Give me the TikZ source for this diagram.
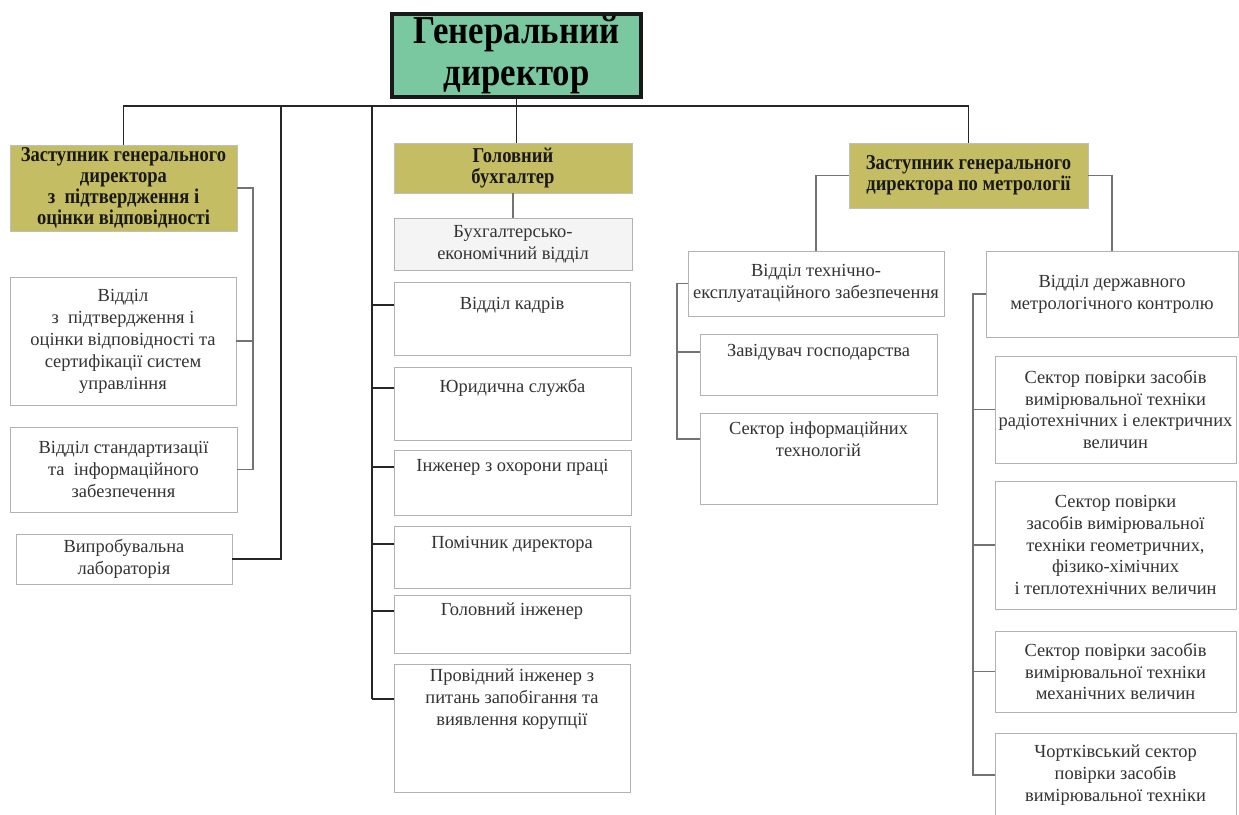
\documentclass[tikz,border=0pt]{standalone}
\usepackage{fontspec}
\setmainfont{Liberation Serif}
\newfontfamily\headfont[FakeStretch=0.88]{Liberation Serif}

\definecolor{chiefgreen}{RGB}{122,200,160}
\definecolor{headolive}{RGB}{197,189,100}
\definecolor{bekgray}{RGB}{244,244,244}

\tikzstyle{chief} = [draw=black!90, line width=2.2pt, fill=chiefgreen, align=center, font=\headfont\bfseries\fontsize{22.5}{24}\selectfont, inner sep=1pt]
\tikzstyle{head} = [draw=black!25, fill=headolive, align=center, font=\headfont\bfseries\fontsize{12}{12}\selectfont, text=black!90, inner sep=1pt]
\tikzstyle{box} = [draw=black!30, fill=white, align=center, font=\fontsize{10.5}{12.5}\selectfont, text=black!80, inner sep=1pt]
\tikzstyle{txt} = [align=center, font=\fontsize{10.5}{12.5}\selectfont, text=black!80, inner sep=1pt]
\tikzstyle{trunk} = [draw=black!85, line width=1.1pt]
\tikzstyle{branch} = [draw=black!55, line width=0.6pt]

\begin{document}
\begin{tikzpicture}[x=0.02cm,y=-0.02cm]
	\useasboundingbox (0,0) rectangle (1239,814);

	% top level
	\node[chief, minimum width=4.98cm, minimum height=1.66cm] (gen) at (516.5,55.5) {Генеральний\\директор};
	\node[head, minimum width=4.54cm, minimum height=1.72cm] (depA) at (123.5,188) {Заступник генерального\\директора\\з~ підтвердження і\\оцінки відповідності};
	\node[head, minimum width=4.76cm, minimum height=1cm] (buh) at (513,168) {Головний\\бухгалтер};
	\node[head, minimum width=4.78cm, minimum height=1.3cm] (depM) at (968.5,175.5) {Заступник генерального\\директора по метрології};

	% left column
	\node[box, minimum width=4.52cm, minimum height=2.56cm] (conf) at (123,341) {Відділ\\з~ підтвердження і\\оцінки відповідності та\\сертифікації систем\\управління};
	\node[box, minimum width=4.54cm, minimum height=1.7cm] (std) at (123.5,469.5) {Відділ стандартизації\\та~ інформаційного\\забезпечення};
	\node[box, minimum width=4.32cm, minimum height=1cm] (lab) at (124,559) {Випробувальна\\лабораторія};

	% middle column
	\node[box, fill=bekgray, minimum width=4.76cm, minimum height=1.04cm] (bek) at (513,244) {Бухгалтерсько-\\економічний відділ};
	\node[box, minimum width=4.72cm, minimum height=1.46cm] (kadry) at (512,318.5) {};
	\node[txt] (kadry-txt) at (512,305) {Відділ кадрів};
	\node[box, minimum width=4.74cm, minimum height=1.46cm] (yur) at (512.5,403.5) {};
	\node[txt] (yur-txt) at (512.5,388) {Юридична служба};
	\node[box, minimum width=4.74cm, minimum height=1.3cm] (ohor) at (512.5,482.5) {};
	\node[txt] (ohor-txt) at (512.5,467) {Інженер з охорони праці};
	\node[box, minimum width=4.72cm, minimum height=1.24cm] (pomich) at (512,557) {};
	\node[txt] (pomich-txt) at (512,544) {Помічник директора};
	\node[box, minimum width=4.72cm, minimum height=1.16cm] (golinzh) at (512,624) {};
	\node[txt] (golinzh-txt) at (512,611) {Головний інженер};
	\node[box, minimum width=4.72cm, minimum height=2.56cm] (provid) at (512,728) {};
	\node[txt] (provid-txt) at (512,699) {Провідний інженер з\\питань запобігання та\\виявлення корупції};

	% metrology, left
	\node[box, minimum width=5.12cm, minimum height=1.3cm] (tekh) at (816,283.5) {Відділ технічно-\\експлуатаційного забезпечення};
	\node[box, minimum width=4.74cm, minimum height=1.22cm] (zav) at (818.5,364.5) {};
	\node[txt] (zav-txt) at (818.5,352) {Завідувач господарства};
	\node[box, minimum width=4.74cm, minimum height=1.82cm] (info) at (818.5,458.5) {};
	\node[txt] (info-txt) at (818.5,439) {Сектор інформаційних\\технологій};

	% metrology, right
	\node[box, minimum width=5.04cm, minimum height=1.72cm] (derzh) at (1112,294) {Відділ державного\\метрологічного контролю};
	\node[box, minimum width=4.82cm, minimum height=2.14cm] (radio) at (1115.5,409.5) {Сектор повірки засобів\\вимірювальної техніки\\радіотехнічних і електричних\\величин};
	\node[box, minimum width=4.82cm, minimum height=2.56cm] (geom) at (1115.5,545) {Сектор повірки\\засобів вимірювальної\\техніки геометричних,\\фізико-хімічних\\і теплотехнічних величин};
	\node[box, minimum width=4.82cm, minimum height=1.62cm] (mekh) at (1115.5,671.5) {Сектор повірки засобів\\вимірювальної техніки\\механічних величин};
	\node[box, minimum width=4.82cm, minimum height=1.8cm] (chort) at (1115.5,778) {};
	\node[txt] (chort-txt) at (1115.5,775) {Чортківський сектор\\повірки засобів\\вимірювальної техніки};

	\coordinate (bus) at (516,106);
	\coordinate (labtop) at (281,106);
	\coordinate (stafftop) at (372,106);
	\coordinate (confx) at (253,188);
	\coordinate (tekhx) at (677,283.5);
	\coordinate (derzhx) at (973,294);

	% trunk lines
	\draw[trunk] (gen.south) -- (gen.south |- buh.north);
	\draw[trunk] (depA.north) |- (bus) -| (depM.north);
	\draw[trunk] (labtop) |- (lab.east);
	\draw[trunk] (stafftop) -- (stafftop |- provid-txt);
	\foreach \n in {kadry,yur,ohor,pomich,golinzh,provid}
		\draw[trunk] (stafftop |- \n-txt) -- (\n-txt -| \n.west);

	% thin branches
	\draw[branch] (depA.east) -- (confx) |- (std.east);
	\draw[branch] (conf.east) -- (conf.east -| confx);
	\draw[branch] (buh.south) -- (buh.south |- bek.north);
	\draw[branch] (depM.west) -| (tekh.north);
	\draw[branch] (depM.east) -| (derzh.north);
	\draw[branch] (tekh.west) -- (tekhx) |- (info-txt -| info.west);
	\draw[branch] (zav-txt -| tekhx) -- (zav-txt -| zav.west);
	\draw[branch] (derzh.west) -- (derzhx) |- (chort-txt -| chort.west);
	\foreach \n in {radio,geom,mekh}
		\draw[branch] (\n.west -| derzhx) -- (\n.west);
\end{tikzpicture}
\end{document}
